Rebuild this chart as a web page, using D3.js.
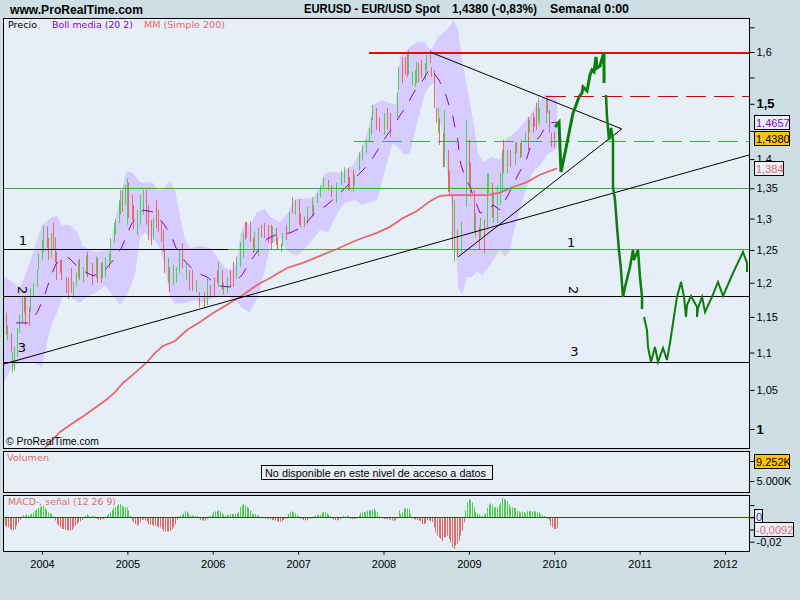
<!DOCTYPE html>
<html>
<head>
<meta charset="utf-8">
<script src="https://cdn.jsdelivr.net/npm/d3@7"></script>
<style>
body { margin: 0; background: #cddee5; }
svg { display: block; }
</style>
</head>
<body>
<script>
// weekly bars: week number from the first bar of 2003
const barWeek = [1,2,4,5,6,8,9,11,12,13,15,16,18,20,21,23,24,26,27,29,30,31,32,34,35,38,39,41,42,44,45,46,48,50,51,54,56,57,59,60,62,64,65,67,68,70,71,72,74,75,76,78,79,81,83,85,87,88,90,91,93,94,96,97,98,100,101,103,105,107,109,111,113,115,117,119,122,124,126,128,130,131,133,134,136,138,140,142,144,146,147,148,150,152,153,155,157,159,161,163,164,166,167,169,170,172,174,176,178,180,181,183,185,188,189,191,193,195,198,200,203,206,208,210,211,213,214,217,219,221,223,224,225,227,229,232,234,236,240,241,243,245,246,247,249,251,252,253,255,257,258,260,261,263,264,265,266,268,269,271,272,274,275,277,279,282,284,285,287,288,290,291,293,295,296,298,299,301,303,304,305,307,309,312,313,315,316,318,320,321,323,324,325,326,327,331,332,333,334,336]
const barHigh = [1.156,1.138,1.127,1.100,1.108,1.134,1.153,1.179,1.179,1.179,1.164,1.192,1.200,1.219,1.245,1.266,1.288,1.287,1.269,1.277,1.293,1.270,1.247,1.235,1.235,1.208,1.208,1.222,1.201,1.216,1.235,1.236,1.224,1.242,1.247,1.230,1.240,1.238,1.230,1.232,1.238,1.245,1.269,1.293,1.299,1.330,1.347,1.347,1.355,1.367,1.359,1.339,1.322,1.314,1.339,1.347,1.347,1.322,1.298,1.301,1.330,1.314,1.295,1.282,1.250,1.238,1.224,1.227,1.224,1.250,1.261,1.230,1.219,1.219,1.204,1.186,1.186,1.207,1.197,1.208,1.219,1.232,1.219,1.200,1.208,1.219,1.232,1.240,1.263,1.277,1.295,1.295,1.295,1.269,1.279,1.285,1.290,1.293,1.290,1.290,1.287,1.285,1.269,1.261,1.277,1.290,1.311,1.335,1.330,1.332,1.309,1.303,1.319,1.335,1.322,1.342,1.355,1.369,1.364,1.355,1.359,1.381,1.386,1.384,1.369,1.381,1.373,1.412,1.425,1.434,1.455,1.475,1.498,1.492,1.475,1.483,1.492,1.483,1.522,1.570,1.590,1.590,1.598,1.604,1.561,1.564,1.580,1.578,1.584,1.578,1.594,1.604,1.570,1.564,1.492,1.492,1.473,1.447,1.488,1.416,1.381,1.339,1.330,1.282,1.295,1.470,1.434,1.394,1.347,1.309,1.287,1.301,1.298,1.376,1.376,1.359,1.344,1.355,1.376,1.416,1.434,1.416,1.416,1.429,1.430,1.429,1.434,1.447,1.475,1.470,1.483,1.475,1.502,1.512,1.492,1.512,1.512,1.488,1.447,1.449]
const barLow = [1.125,1.117,1.100,1.073,1.076,1.094,1.127,1.141,1.156,1.138,1.137,1.157,1.179,1.194,1.219,1.235,1.247,1.253,1.235,1.238,1.250,1.230,1.204,1.215,1.204,1.185,1.176,1.185,1.178,1.194,1.207,1.204,1.200,1.212,1.208,1.197,1.207,1.200,1.200,1.207,1.208,1.222,1.232,1.261,1.274,1.293,1.306,1.311,1.322,1.290,1.301,1.298,1.282,1.274,1.290,1.306,1.290,1.266,1.258,1.266,1.285,1.279,1.263,1.247,1.215,1.200,1.186,1.197,1.200,1.215,1.222,1.204,1.189,1.188,1.186,1.164,1.163,1.167,1.178,1.178,1.200,1.194,1.189,1.182,1.185,1.194,1.194,1.207,1.224,1.238,1.266,1.269,1.263,1.245,1.247,1.240,1.270,1.269,1.261,1.250,1.261,1.258,1.250,1.247,1.255,1.266,1.277,1.309,1.306,1.290,1.287,1.287,1.290,1.303,1.306,1.326,1.335,1.351,1.347,1.335,1.326,1.355,1.359,1.347,1.347,1.344,1.355,1.381,1.398,1.411,1.430,1.443,1.470,1.452,1.449,1.443,1.452,1.439,1.475,1.526,1.539,1.555,1.551,1.555,1.535,1.532,1.539,1.541,1.549,1.545,1.564,1.578,1.551,1.492,1.464,1.447,1.425,1.386,1.386,1.344,1.339,1.250,1.232,1.240,1.245,1.319,1.352,1.335,1.277,1.270,1.250,1.269,1.245,1.282,1.342,1.301,1.293,1.293,1.322,1.342,1.376,1.376,1.386,1.390,1.411,1.402,1.404,1.430,1.416,1.447,1.447,1.458,1.452,1.467,1.461,1.464,1.483,1.447,1.421,1.421]
const barUp = [0,1,0,1,1,1,1,1,0,0,0,1,1,1,1,1,1,0,0,1,0,0,0,0,0,0,0,0,1,1,1,0,1,1,0,0,1,0,0,1,1,1,1,1,1,1,1,0,1,1,0,0,0,1,1,1,0,0,0,1,0,0,0,0,0,1,0,1,1,1,0,1,0,0,1,0,0,1,0,0,0,1,0,1,1,0,0,1,1,1,0,0,0,0,1,1,0,0,0,0,1,0,0,1,1,0,1,0,1,0,0,0,1,1,0,1,1,1,0,0,1,1,1,0,0,0,1,1,1,1,1,1,1,0,0,1,0,0,1,1,0,0,0,1,1,1,1,0,0,1,1,0,0,0,0,1,0,0,1,0,0,0,1,0,1,1,0,0,0,1,0,1,0,1,1,0,1,1,1,1,0,1,0,1,0,0,1,1,0,1,0,0,0,1,1,1,0,0,0,0]

const upperDates = [2003.555,2003.625,2003.742,2003.859,2003.941,2004,2004.117,2004.176,2004.234,2004.328,2004.41,2004.48,2004.62,2004.796,2004.855,2004.914,2004.972,2005.007,2005.066,2005.148,2005.183,2005.288,2005.359,2005.417,2005.499,2005.558,2005.581,2005.616,2005.675,2005.734,2005.851,2005.968,2006.062,2006.143,2006.225,2006.284,2006.319,2006.378,2006.436,2006.518,2006.612,2006.671,2006.788,2006.881,2006.963,2007.174,2007.256,2007.315,2007.397,2007.514,2007.573,2007.643,2007.725,2007.819,2007.878,2007.983,2008.076,2008.146,2008.193,2008.31,2008.404,2008.486,2008.545,2008.58,2008.638,2008.744,2008.826,2008.873,2008.908,2008.978,2009.048,2009.107,2009.165,2009.271,2009.365,2009.423,2009.575,2009.716,2009.833,2009.892,2009.951,2010.033]
const upperBand = [1.2087,1.204,1.192,1.2315,1.2658,1.2897,1.3026,1.3042,1.2897,1.2897,1.2784,1.2563,1.2469,1.25,1.2976,1.3304,1.3726,1.3795,1.376,1.3607,1.359,1.3607,1.3471,1.3471,1.3623,1.3471,1.3304,1.3057,1.2657,1.2532,1.2563,1.2532,1.2376,1.2222,1.2192,1.2314,1.2735,1.2944,1.2897,1.3106,1.3155,1.3024,1.2944,1.309,1.3321,1.3338,1.3524,1.376,1.3777,1.376,1.3846,1.3898,1.4124,1.4517,1.4977,1.507,1.5014,1.4977,1.5904,1.6105,1.6212,1.619,1.6039,1.6105,1.6305,1.6444,1.665,1.6444,1.598,1.5316,1.4699,1.411,1.3951,1.404,1.3984,1.4337,1.4517,1.4793,1.507,1.518,1.517,1.51]
const lowerDates = [2003.555,2003.625,2003.742,2003.859,2003.953,2004,2004.059,2004.117,2004.176,2004.234,2004.328,2004.445,2004.504,2004.621,2004.738,2004.796,2004.914,2004.996,2005.089,2005.148,2005.206,2005.3,2005.382,2005.441,2005.499,2005.558,2005.675,2005.792,2005.909,2006.026,2006.179,2006.261,2006.343,2006.436,2006.53,2006.612,2006.671,2006.788,2006.87,2006.94,2006.999,2007.139,2007.256,2007.35,2007.467,2007.549,2007.666,2007.748,2007.924,2008.041,2008.111,2008.17,2008.252,2008.31,2008.392,2008.486,2008.545,2008.603,2008.615,2008.697,2008.744,2008.802,2008.814,2008.861,2008.873,2008.92,2008.978,2009.037,2009.095,2009.165,2009.248,2009.365,2009.423,2009.482,2009.54,2009.634,2009.693,2009.751,2009.833,2009.915,2010.033]
const lowerBand = [1.0604,1.0763,1.0871,1.0884,1.0831,1.0804,1.1134,1.1414,1.1558,1.179,1.179,1.1702,1.1775,1.1848,1.1954,1.1863,1.1673,1.1819,1.2116,1.2689,1.277,1.2689,1.2532,1.224,1.179,1.1688,1.1702,1.1745,1.1702,1.179,1.179,1.1745,1.1629,1.157,1.179,1.2192,1.2581,1.2689,1.25,1.2422,1.2422,1.261,1.2815,1.277,1.3106,1.3258,1.3304,1.3224,1.3304,1.3935,1.4283,1.4201,1.4073,1.4111,1.4644,1.5204,1.5356,1.5397,1.4946,1.4464,1.3811,1.3139,1.277,1.23,1.1936,1.1819,1.2087,1.2087,1.2162,1.2116,1.2269,1.25,1.2392,1.25,1.2866,1.3304,1.3604,1.3777,1.3898,1.4073,1.4197]

const middleDates = [2003.695,2003.836,2003.941,2004.012,2004.105,2004.164,2004.234,2004.316,2004.445,2004.597,2004.726,2004.855,2004.937,2004.996,2005.054,2005.183,2005.3,2005.417,2005.511,2005.57,2005.663,2005.792,2005.933,2006.062,2006.202,2006.343,2006.425,2006.518,2006.635,2006.729,2006.905,2007.057,2007.174,2007.338,2007.467,2007.608,2007.76,2007.83,2007.912,2007.994,2008.1,2008.181,2008.275,2008.357,2008.463,2008.545,2008.65,2008.72,2008.767,2008.814,2008.838,2008.873,2008.884,2008.908,2008.955,2009.013,2009.06,2009.13,2009.224,2009.283,2009.365,2009.447,2009.517,2009.587,2009.669,2009.716,2009.833,2009.927,2010.033]
const middleBand = [1.1414,1.1414,1.1558,1.1745,1.2102,1.2283,1.2376,1.2376,1.2208,1.2102,1.2177,1.2376,1.2549,1.2751,1.2929,1.3139,1.3106,1.2929,1.2735,1.2532,1.2345,1.2162,1.2087,1.1954,1.1937,1.2116,1.23,1.2469,1.2675,1.2735,1.277,1.2866,1.3057,1.3224,1.3386,1.3588,1.3811,1.3918,1.411,1.432,1.4552,1.4754,1.4977,1.5218,1.545,1.5684,1.545,1.5218,1.4977,1.4754,1.4552,1.432,1.411,1.3898,1.3692,1.3525,1.3338,1.309,1.3123,1.3224,1.3139,1.3355,1.3557,1.376,1.3968,1.4197,1.441,1.4644,1.4659]

const smaDates = [2004.035,2004.211,2004.328,2004.504,2004.75,2004.855,2004.949,2005.089,2005.23,2005.324,2005.417,2005.558,2005.698,2005.851,2006.004,2006.202,2006.319,2006.518,2006.671,2006.87,2007.057,2007.256,2007.455,2007.69,2007.924,2008.076,2008.228,2008.392,2008.545,2008.662,2008.779,2009.013,2009.212,2009.365,2009.517,2009.681,2009.833,2010.033]
const smaValues = [0.977,0.9963,1.005,1.0176,1.0368,1.047,1.059,1.0724,1.087,1.0995,1.109,1.116,1.1314,1.1427,1.1555,1.1702,1.179,1.1966,1.2071,1.2223,1.23,1.241,1.2516,1.2657,1.277,1.2866,1.3007,1.3122,1.3285,1.3374,1.3386,1.3386,1.3386,1.3426,1.3522,1.3604,1.373,1.384]

// hand drawn forecast, three pieces with gaps between them
const forecastDatesA = [2010.009,2010.056,2010.067,2010.079,2010.126,2010.173,2010.22,2010.243,2010.29,2010.325,2010.337,2010.384,2010.419,2010.442,2010.466,2010.489,2010.501,2010.536,2010.571,2010.583,2010.583]
const forecastA = [1.4573,1.4659,1.4214,1.3777,1.4108,1.4464,1.4829,1.4922,1.5128,1.5204,1.5318,1.5241,1.5549,1.5646,1.5607,1.5901,1.5685,1.5724,1.5941,1.5981,1.5394]
const forecastDatesB = [2010.606,2010.618,2010.641,2010.665,2010.688,2010.688,2010.712,2010.735,2010.758,2010.782,2010.805,2010.829,2010.887,2010.922,2010.934,2010.981,2011.004,2011.028,2011.028]
const forecastB = [1.5166,1.4755,1.4338,1.4554,1.4338,1.3522,1.3304,1.2865,1.25,1.2192,1.179,1.1937,1.2238,1.25,1.2345,1.25,1.2087,1.179,1.1614]
const forecastDatesC = [2011.051,2011.086,2011.098,2011.133,2011.18,2011.215,2011.274,2011.32,2011.356,2011.391,2011.438,2011.485,2011.52,2011.543,2011.555,2011.602,2011.672,2011.672,2011.684,2011.731,2011.766,2011.848,2011.918,2011.977,2012.094,2012.211,2012.258,2012.258]
const forecastC = [1.1499,1.1314,1.1077,1.0871,1.1077,1.0871,1.1063,1.0898,1.1132,1.1413,1.179,1.2012,1.179,1.1499,1.1672,1.1804,1.1643,1.1499,1.1629,1.179,1.1571,1.179,1.2012,1.1804,1.2147,1.2469,1.23,1.2163]

// macd histogram, thousandths, one value per week
const macdValues = [-6.8,-8.2,-8.2,-9.6,-10.9,-10.4,-9.6,-6.8,-4.1,-2.2,.8,1.9,1.4,2.2,1.4,1.9,2.7,3.8,5.5,6.6,7.7,8.2,9,9.6,7.7,6,4.1,3.3,2.7,.8,
-2.7,-5.5,-6.8,-8.2,-9.6,-9.6,-10.1,-10.4,-10.9,-10.9,-10.4,-8.2,-6.8,-5.5,-4.1,-3.3,-2.2,-.8,1.4,2.5,1.4,-.8,.8,1.1,.8,-1.4,-1.6,-2.2,-1.4,-1.4,
.8,1.4,2.7,4.1,6,7.7,8.7,9.8,10.4,10.9,9.6,8.7,8.2,8.2,5.5,1.4,-2.7,-4.1,-5.5,-6.8,-6,-4.1,-2.2,-1.6,-2.7,-4.1,-5.5,-6,-6,-6.8,-6.8,-7.7,-8.2,-8.2,-9.6,-11.5,-11.5,-11.7,-11.5,-11.5,-9.8,-8.2,-6,-2.2,
.8,1.4,2.2,3.3,4.9,4.6,3.3,1.9,1.6,1.1,1.4,.8,-.8,-2.2,-2.7,-2.7,-2.7,-1.6,.8,1.1,2.2,4.1,4.9,5.5,5.5,4.9,3.3,2.2,1.4,2.2,1.6,2.7,2.7,2.7,2.7,3.3,4.1,8.2,9.8,10.9,9.8,8.7,7.7,5.5,3.3,2.7,2.7,1.4,1.4,.2,
-.5,-.8,-.8,-1.1,-1.1,-1.6,-2.2,-2.2,-2.7,-3.3,-3.8,-3.8,-3.3,-2.2,-1.4,-.8,2.7,4.1,4.9,4.1,3.3,1.6,.8,-1.4,-1.4,-2.2,-2.7,-2.2,-.8,-1.4,-.8,.8,1.6,1.4,2.2,2.2,4.1,4.1,4.4,3.3,2.2,1.1,-1.1,-1.6,-2.2,-2.7,-2.2,-1.4,-.8,1.4,.8,1.4,.8,-1.4,-1.6,-1.6,-1.1,-.8,
1.4,3.8,4.1,4.1,4.6,5.5,6,6,6.6,7.1,5.5,4.1,.8,-.8,-.8,-1.4,-1.4,-1.9,-1.6,-1.9,-2.7,-3.3,-2.2,-.8,5.5,2.7,4.1,7.4,7.4,7.1,6.8,2.7,
-.8,-1.4,-1.9,-2.2,-2.5,-3.3,-5.5,-5.5,-4.9,-2.2,-2.7,-3.3,-4.1,-8.2,-12.3,-15,-16.4,-17.8,-19.7,-16.4,-16.4,-15,-17.8,-20.5,-24.6,-26,-23.2,-21.9,-19.1,-15,-10.9,-4.1,
5.5,12.3,15,14.2,12.3,8.2,4.1,3.3,2.2,.8,.8,1.9,3.3,7.7,10.4,11.5,10.4,8.2,8.2,8.2,10.4,11.5,15.8,15,14.2,13.1,10.4,8.2,8.2,7.7,7.7,5.5,4.9,4.1,4.6,4.1,3.8,4.9,5.5,4.9,4.9,4.9,4.9,4.1,4.1,2.7,1.6,1.1,.8,
-1.4,-2.7,-6.8,-8.2,-9.6,-9.6,-9.2]

const yearTicks = [2004,2005,2006,2007,2008,2009,2010,2011,2012]
const priceTicks = [1,1.05,1.1,1.15,1.2,1.25,1.3,1.35,1.4,1.45,1.5,1.55,1.6,1.65]
const unlabelledTicks = [1.45,1.55,1.65]
const boldTicks = [1,1.5]

const GREEN_BAR = "#4fcf4f"
const RED_BAR = "#e46a6a"
const PURPLE = "#8a00d0"
const LINE_GREEN = "#3fa83f"
const FORECAST = "#0a7d0a"
const FONT = "'Liberation Sans', Arial, sans-serif"
const SMALL_FONT = "'DejaVu Sans', sans-serif"
const AXIS_SIZE = 11

var svg = d3.select("body").append("svg")
	.attr("width", 800)
	.attr("height", 600)
	.style("background", "#cddee5")

var x = d3.scaleLinear().domain([2004, 2012]).range([42, 725])
var y = d3.scaleLog().domain([1, 1.6]).range([429, 52])
var weekDate = d3.scaleLinear().domain([0, 52.16]).range([2003.555, 2004.555])
var macdX = d3.scaleLinear().domain([0, macdValues.length - 1]).range([x(2003.564), x(2010.033)])
var macdY = d3.scaleLinear().domain([0, -20]).range([517.3, 541.7])
var volY = d3.scaleLinear().domain([5000, 9252]).range([481, 461])

var panels = [[18.5, 448], [451.5, 492.5], [495.5, 551.5]]
svg.selectAll("rect.panel").data(panels).enter().append("rect")
	.attr("class", "panel")
	.attr("x", 3.5)
	.attr("y", d => d[0])
	.attr("width", 746)
	.attr("height", d => d[1] - d[0])
	.attr("fill", "#e6eff8")

svg.append("clipPath").attr("id", "mainClip").append("rect")
	.attr("x", 4).attr("y", 19).attr("width", 745).attr("height", 429)
var main = svg.append("g").attr("clip-path", "url(#mainClip)")

function points(dates, values) { return dates.map((d, i) => [x(d), y(values[i])]) }
var line = d3.line()

// bollinger band
main.append("path")
	.attr("d", line(points(upperDates, upperBand).concat(points(lowerDates, lowerBand).reverse())) + "Z")
	.attr("fill", "#d6ccff")

// price bars
main.selectAll("line.bar").data(barWeek).enter().append("line")
	.attr("class", "bar")
	.attr("x1", d => Math.round(x(weekDate(d))) + 0.5)
	.attr("x2", d => Math.round(x(weekDate(d))) + 0.5)
	.attr("y1", (d, i) => y(barHigh[i]))
	.attr("y2", (d, i) => y(barLow[i]))
	.attr("stroke", (d, i) => barUp[i] ? GREEN_BAR : RED_BAR)
	.attr("stroke-width", 1)

main.append("path")
	.attr("d", line(points(middleDates, middleBand)))
	.attr("fill", "none")
	.attr("stroke", PURPLE)
	.attr("stroke-width", 1)
	.attr("stroke-dasharray", "12 11")

main.append("path")
	.attr("d", line(points(smaDates, smaValues)))
	.attr("fill", "none")
	.attr("stroke", RED_BAR)
	.attr("stroke-width", 1.8)

// drawn horizontal levels
const levelValues = [1.598, 1.513, 1.431, 1.349, 1.2512, 1.2512, 1.18, 1.087]
const levelStarts = [2007.83, 2009.9, 2007.654, 2003.555, 2003.555, 2006.179, 2003.555, 2003.555]
const levelEnds = [2012.281, 2012.281, 2012.281, 2012.281, 2006.179, 2012.281, 2012.281, 2012.281]
const levelColors = ["#f00000", "#c80000", LINE_GREEN, LINE_GREEN, "#000", LINE_GREEN, "#000", "#000"]
const levelWidths = [2, 1, 1, 1, 1, 1, 1, 1]
const levelDashes = [null, "20 8", "20 8", null, null, null, null, null]
main.selectAll("line.level").data(levelValues).enter().append("line")
	.attr("class", "level")
	.attr("x1", (d, i) => x(levelStarts[i]))
	.attr("x2", (d, i) => x(levelEnds[i]))
	.attr("y1", d => y(d))
	.attr("y2", d => y(d))
	.attr("stroke", (d, i) => levelColors[i])
	.attr("stroke-width", (d, i) => levelWidths[i])
	.attr("stroke-dasharray", (d, i) => levelDashes[i])
	.attr("shape-rendering", "crispEdges")

// trend lines
const trendDates = [[2008.545, 2010.79], [2008.873, 2010.79], [2003.555, 2012.281]]
const trendValues = [[1.6, 1.4537], [1.2392, 1.4537], [1.0844, 1.4072]]
main.selectAll("path.trend").data(trendDates).enter().append("path")
	.attr("class", "trend")
	.attr("d", (d, i) => line(points(d, trendValues[i])))
	.attr("fill", "none")
	.attr("stroke", "#000")
	.attr("stroke-width", 1)

// forecast
const forecastSets = [[forecastDatesA, forecastA, 3], [forecastDatesB, forecastB, 2.5], [forecastDatesC, forecastC, 2]]
main.selectAll("path.forecast").data(forecastSets).enter().append("path")
	.attr("class", "forecast")
	.attr("d", d => line(points(d[0], d[1])))
	.attr("fill", "none")
	.attr("stroke", FORECAST)
	.attr("stroke-width", d => d[2])

// wave numbers
const waveLabels = ["1", "2", "3", "1", "2", "3"]
const waveDates = [2003.777, 2003.765, 2003.765, 2010.197, 2010.21, 2010.235]
const waveValues = [1.263, 1.189, 1.105, 1.26, 1.189, 1.10]
const waveAngles = [0, 90, 0, 0, 90, 0]
main.selectAll("text.wave").data(waveLabels).enter().append("text")
	.attr("class", "wave")
	.attr("transform", (d, i) => "translate(" + x(waveDates[i]) + "," + y(waveValues[i]) + ") rotate(" + waveAngles[i] + ")")
	.attr("text-anchor", "middle")
	.attr("dominant-baseline", "middle")
	.attr("font-family", SMALL_FONT)
	.attr("font-size", 13)
	.attr("fill", "#000")
	.text(d => d)

// macd histogram
svg.selectAll("rect.macd").data(macdValues).enter().append("rect")
	.attr("class", "macd")
	.attr("x", (d, i) => Math.round(macdX(i)))
	.attr("y", d => d > 0 ? macdY(d) : macdY(0))
	.attr("width", 1)
	.attr("height", d => Math.abs(macdY(d) - macdY(0)))
	.attr("fill", d => d > 0 ? GREEN_BAR : RED_BAR)

svg.append("line")
	.attr("x1", 4).attr("x2", 755)
	.attr("y1", macdY(0)).attr("y2", macdY(0))
	.attr("stroke", "#2a30c8")
	.attr("stroke-width", 1)
	.attr("shape-rendering", "crispEdges")

// panel borders on top
svg.selectAll("rect.border").data(panels).enter().append("rect")
	.attr("class", "border")
	.attr("x", 3.5)
	.attr("y", d => d[0])
	.attr("width", 746)
	.attr("height", d => d[1] - d[0])
	.attr("fill", "none")
	.attr("stroke", "#000")
	.attr("shape-rendering", "crispEdges")

// axes
var priceAxis = d3.axisRight(y)
	.tickValues(priceTicks)
	.tickSize(5)
	.tickPadding(2)
	.tickFormat(d => unlabelledTicks.includes(d) ? "" : String(d).replace(".", ","))
var priceG = svg.append("g").attr("transform", "translate(749.5,0)").call(priceAxis)
priceG.select(".domain").remove()
priceG.selectAll("text")
	.attr("font-family", FONT)
	.attr("font-size", d => boldTicks.includes(d) ? 13 : AXIS_SIZE)
	.attr("font-weight", d => boldTicks.includes(d) ? "bold" : "normal")
	.attr("fill", "#000")

var volG = svg.append("g").attr("transform", "translate(749.5,0)")
	.call(d3.axisRight(volY).tickValues([5000, 9252]).tickSize(5).tickPadding(2)
		.tickFormat(d => d == 5000 ? "5.000K" : ""))
volG.select(".domain").remove()
volG.selectAll("text").attr("font-family", FONT).attr("font-size", AXIS_SIZE).attr("fill", "#000")

var macdG = svg.append("g").attr("transform", "translate(749.5,0)")
	.call(d3.axisRight(macdY).tickValues([10, 0, -10, -20]).tickSize(5).tickPadding(2)
		.tickFormat(d => d == -20 ? "-0,02" : ""))
macdG.select(".domain").remove()
macdG.selectAll("text").attr("font-family", FONT).attr("font-size", AXIS_SIZE).attr("fill", "#000")

var yearG = svg.append("g").attr("transform", "translate(0,551.5)")
	.call(d3.axisBottom(x).tickValues(yearTicks).tickSize(3).tickPadding(6).tickFormat(d3.format("d")))
yearG.select(".domain").remove()
yearG.selectAll("text").attr("font-family", FONT).attr("font-size", AXIS_SIZE).attr("fill", "#000")

// value boxes on the right
function valueBox(cy, width, label, color, fill) {
	svg.append("rect")
		.attr("x", 754.5).attr("y", Math.round(cy - 7) + 0.5)
		.attr("width", width).attr("height", 14)
		.attr("fill", fill)
		.attr("stroke", "#000")
		.attr("shape-rendering", "crispEdges")
	svg.append("text")
		.attr("x", 756).attr("y", Math.round(cy - 7) + 11.5)
		.attr("font-family", FONT)
		.attr("font-size", AXIS_SIZE)
		.attr("fill", color)
		.text(label)
}
valueBox(y(1.4657), 35, "1,4657", PURPLE, "#e9f0f9")
valueBox(y(1.438), 35, "1,4380", "#000", "#ffc400")
valueBox(y(1.384), 29, "1,384", RED_BAR, "#e9f0f9")
valueBox(volY(9252), 35, "9.252K", "#000", "#ffc400")
svg.append("rect").attr("x", 754.5).attr("y", 509.5).attr("width", 8).attr("height", 15)
	.attr("fill", "#e9f0f9").attr("stroke", "#000").attr("shape-rendering", "crispEdges")
svg.append("text").attr("x", 756).attr("y", 521).attr("font-family", FONT).attr("font-size", AXIS_SIZE)
	.attr("fill", "#2a30c8").text("0")
valueBox(macdY(-9.2), 39, "-0,0092", RED_BAR, "#e9f0f9")

// titles
function label(tx, ty, text, size, color, family, weight, length) {
	var t = svg.append("text")
		.attr("x", tx).attr("y", ty)
		.attr("font-family", family)
		.attr("font-size", size)
		.attr("font-weight", weight || "normal")
		.attr("fill", color)
		.text(text)
	if (length) t.attr("textLength", length).attr("lengthAdjust", "spacingAndGlyphs")
}
label(10, 14, "www.ProRealTime.com", 13, "#000", FONT, "bold", 133)
label(304, 13, "EURUSD - EUR/USD Spot", 12, "#000", FONT, "bold", 136)
label(452, 13, "1,4380 (-0,83%)", 12, "#000", FONT, "bold", 85)
label(550, 13, "Semanal  0:00", 12, "#000", FONT, "bold", 79)
label(8, 28, "Precio", 9, "#000", SMALL_FONT, null, 29)
label(52, 28, "Boll media (20 2)", 9, PURPLE, SMALL_FONT, null, 81)
label(144, 28, "MM (Simple 200)", 9, RED_BAR, SMALL_FONT, null, 81)
label(6, 445, "© ProRealTime.com", 10.5, "#000", FONT, null, 93)
label(7, 461, "Volumen", 9, RED_BAR, SMALL_FONT, null, 42)
label(8, 505, "MACD-, señal (12 26 9)", 9, RED_BAR, SMALL_FONT, null, 108)

svg.append("rect")
	.attr("x", 261.5).attr("y", 465.5)
	.attr("width", 231).attr("height", 14)
	.attr("fill", "#e6eff8")
	.attr("stroke", "#000")
	.attr("shape-rendering", "crispEdges")
label(265, 476.5, "No disponible en este nivel de acceso a datos", 11, "#000", FONT, null, 221)
</script>
</body>
</html>
